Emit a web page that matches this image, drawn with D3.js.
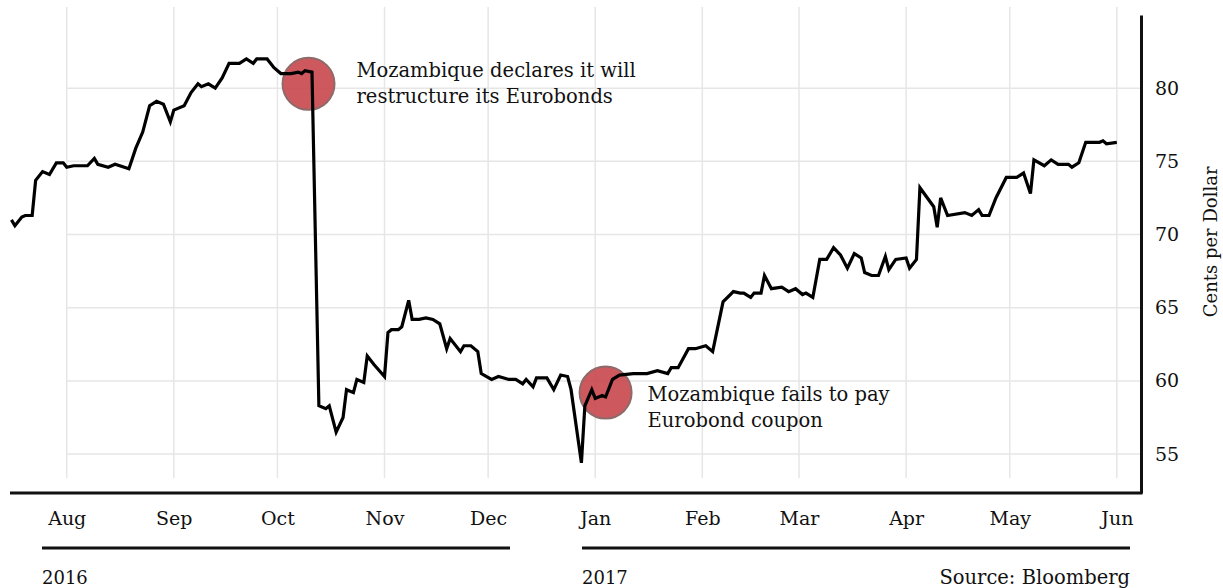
<!DOCTYPE html>
<html>
<head>
<meta charset="utf-8">
<script src="https://cdn.jsdelivr.net/npm/d3@7/dist/d3.min.js"></script>
<style>
  body { margin: 0; background: #fff; }
  svg text { font-family: "DejaVu Serif", "Liberation Serif", serif; fill: #111; }
</style>
</head>
<body>
<div id="chart"></div>
<script>
// Mozambique Eurobond price, cents per dollar
const dates = [
  '2016-07-16','2016-07-17','2016-07-19','2016-07-20','2016-07-22','2016-07-23','2016-07-25','2016-07-27',
  '2016-07-29','2016-07-31','2016-08-01','2016-08-03','2016-08-07','2016-08-09','2016-08-10','2016-08-13',
  '2016-08-15','2016-08-19','2016-08-21','2016-08-23','2016-08-25','2016-08-27','2016-08-29','2016-08-31',
  '2016-09-01','2016-09-04','2016-09-06','2016-09-08','2016-09-09','2016-09-11','2016-09-13','2016-09-15',
  '2016-09-17','2016-09-20','2016-09-22','2016-09-24','2016-09-25','2016-09-28','2016-09-30','2016-10-02',
  '2016-10-05','2016-10-07','2016-10-08','2016-10-09','2016-10-11','2016-10-13','2016-10-15','2016-10-16',
  '2016-10-18','2016-10-20','2016-10-21','2016-10-23','2016-10-24','2016-10-26','2016-10-27','2016-10-29',
  '2016-11-01','2016-11-02','2016-11-03','2016-11-05','2016-11-06','2016-11-08','2016-11-09','2016-11-11',
  '2016-11-13','2016-11-15','2016-11-17','2016-11-19','2016-11-20','2016-11-23','2016-11-24','2016-11-26',
  '2016-11-28','2016-11-29','2016-12-02','2016-12-04','2016-12-07','2016-12-09','2016-12-11','2016-12-12',
  '2016-12-14','2016-12-15','2016-12-18','2016-12-20','2016-12-22','2016-12-24','2016-12-25','2016-12-28',
  '2016-12-29','2016-12-31','2017-01-01','2017-01-03','2017-01-04','2017-01-06','2017-01-08','2017-01-12',
  '2017-01-16','2017-01-19','2017-01-22','2017-01-23','2017-01-25','2017-01-28','2017-01-30','2017-02-02',
  '2017-02-04','2017-02-07','2017-02-10','2017-02-12','2017-02-13','2017-02-15','2017-02-16','2017-02-18',
  '2017-02-19','2017-02-21','2017-02-24','2017-02-26','2017-02-28','2017-03-02','2017-03-03','2017-03-05',
  '2017-03-07','2017-03-09','2017-03-11','2017-03-13','2017-03-15','2017-03-17','2017-03-19','2017-03-20',
  '2017-03-22','2017-03-24','2017-03-26','2017-03-27','2017-03-29','2017-04-01','2017-04-02','2017-04-04',
  '2017-04-05','2017-04-09','2017-04-10','2017-04-11','2017-04-13','2017-04-18','2017-04-20','2017-04-22',
  '2017-04-23','2017-04-25','2017-04-27','2017-04-30','2017-05-03','2017-05-05','2017-05-07','2017-05-08',
  '2017-05-11','2017-05-13','2017-05-15','2017-05-18','2017-05-19','2017-05-21','2017-05-23','2017-05-27',
  '2017-05-28','2017-05-29','2017-06-01'
];
const prices = [
  71.0, 70.6, 71.2, 71.3, 71.3, 73.7, 74.3, 74.1,
  74.9, 74.9, 74.6, 74.7, 74.7, 75.2, 74.8, 74.6,
  74.8, 74.5, 75.9, 77.0, 78.8, 79.1, 78.9, 77.7,
  78.5, 78.8, 79.7, 80.3, 80.1, 80.3, 80.0, 80.7,
  81.7, 81.7, 82.0, 81.7, 82.0, 82.0, 81.4, 81.0,
  81.0, 81.1, 81.0, 81.2, 81.1, 58.3, 58.1, 58.3,
  56.5, 57.5, 59.4, 59.2, 60.1, 59.9, 61.7, 61.1,
  60.3, 63.3, 63.5, 63.5, 63.7, 65.5, 64.2, 64.2,
  64.3, 64.2, 63.9, 62.2, 62.9, 62.0, 62.4, 62.4,
  62.0, 60.5, 60.1, 60.3, 60.1, 60.1, 59.8, 60.1,
  59.6, 60.2, 60.2, 59.4, 60.4, 60.3, 59.4, 54.4,
  58.3, 59.4, 58.8, 59.0, 58.9, 60.1, 60.4, 60.5,
  60.5, 60.7, 60.5, 60.9, 60.9, 62.2, 62.2, 62.4,
  62.0, 65.4, 66.1, 66.0, 66.0, 65.7, 66.0, 66.0,
  67.2, 66.3, 66.4, 66.1, 66.3, 65.9, 66.0, 65.7,
  68.3, 68.3, 69.1, 68.6, 67.7, 68.7, 68.4, 67.4,
  67.2, 67.2, 68.5, 67.6, 68.3, 68.4, 67.7, 68.3,
  73.2, 71.9, 70.5, 72.5, 71.3, 71.5, 71.3, 71.7,
  71.3, 71.3, 72.5, 73.9, 73.9, 74.2, 72.8, 75.1,
  74.7, 75.1, 74.8, 74.8, 74.6, 74.9, 76.3, 76.3,
  76.4, 76.2, 76.3
];
const yTicks = [55, 60, 65, 70, 75, 80];
const years = ['2016', '2017'];
const noteDates = ['2016-10-10', '2017-01-04'];
const noteValues = [80.3, 59.2];
const noteTexts = [
  ['Mozambique declares it will', 'restructure its Eurobonds'],
  ['Mozambique fails to pay', 'Eurobond coupon']
];

const width = 1223, height = 588;
const margin = { top: 15, right: 82, bottom: 95, left: 8 };
const parse = d3.timeParse('%Y-%m-%d');
const data = dates.map((d, i) => ({ date: parse(d), value: prices[i] }));

const svg = d3.select('#chart').append('svg')
  .attr('width', width).attr('height', height);

const x = d3.scaleTime()
  .domain([new Date(2016, 6, 15), new Date(2017, 5, 8)])
  .range([margin.left, width - margin.right]);
const y = d3.scaleLinear()
  .domain([52.34, 85])
  .range([height - margin.bottom, margin.top]);

const months = d3.timeMonth.range(new Date(2016, 7, 1), new Date(2017, 5, 2));
const plotBottom = height - margin.bottom;
const plotRight = width - margin.right;

// vertical gridlines
svg.append('g').selectAll('line').data(months).join('line')
  .attr('x1', d => x(d)).attr('x2', d => x(d))
  .attr('y1', margin.top - 8).attr('y2', plotBottom - 15)
  .attr('stroke', '#e6e6e6').attr('stroke-width', 1.5);

// horizontal gridlines
svg.append('g').selectAll('line').data(yTicks).join('line')
  .attr('x1', x(months[0])).attr('x2', plotRight)
  .attr('y1', d => y(d)).attr('y2', d => y(d))
  .attr('stroke', '#e6e6e6').attr('stroke-width', 1.5);

// annotation circles
svg.append('g').selectAll('circle').data(noteDates).join('circle')
  .attr('cx', d => x(parse(d)))
  .attr('cy', (d, i) => y(noteValues[i]))
  .attr('r', 26)
  .attr('fill', '#c8474d').attr('fill-opacity', 0.9)
  .attr('stroke', '#8f6a6a').attr('stroke-width', 2);

// price line
const line = d3.line().x(d => x(d.date)).y(d => y(d.value));
svg.append('path').datum(data)
  .attr('d', line)
  .attr('fill', 'none').attr('stroke', '#000')
  .attr('stroke-width', 3.2).attr('stroke-linejoin', 'miter');

// annotation text, offset from its circle
const noteDx = [48, 42], noteDy = [-7, 8];
noteTexts.forEach((lines, i) => {
  const tx = x(parse(noteDates[i])) + noteDx[i];
  const t = svg.append('text')
    .attr('x', tx)
    .attr('y', y(noteValues[i]) + noteDy[i])
    .style('font-size', '19.5px');
  lines.forEach((s, j) => t.append('tspan')
    .attr('x', tx)
    .attr('dy', j ? 26 : 0).text(s));
});

// x axis
const xAxis = svg.append('g')
  .attr('transform', `translate(0,${plotBottom})`)
  .call(d3.axisBottom(x).tickValues(months).tickFormat(d3.timeFormat('%b')).tickSize(0).tickPadding(19));
xAxis.select('.domain').remove();
xAxis.selectAll('text').style('font-size', '19px').style('font-family', '"DejaVu Serif", serif').attr('fill', '#111');
svg.append('line')
  .attr('x1', margin.left + 2).attr('x2', plotRight + 1.5)
  .attr('y1', plotBottom).attr('y2', plotBottom)
  .attr('stroke', '#111').attr('stroke-width', 3);

// y axis on the right
const yAxis = svg.append('g')
  .attr('transform', `translate(${plotRight},0)`)
  .call(d3.axisRight(y).tickValues(yTicks).tickSize(0).tickPadding(14));
yAxis.select('.domain').attr('stroke', '#111').attr('stroke-width', 3);
yAxis.selectAll('text').style('font-size', '19px').style('font-family', '"DejaVu Serif", serif').attr('fill', '#111');

svg.append('text')
  .attr('transform', `translate(${width - 6},${y(69.5)}) rotate(-90)`)
  .attr('text-anchor', 'middle')
  .style('font-size', '18px')
  .text('Cents per Dollar');

// year bands
const yearSpans = [[42, 510], [582, 1130]];
years.forEach((yr, i) => {
  svg.append('line')
    .attr('x1', yearSpans[i][0]).attr('x2', yearSpans[i][1])
    .attr('y1', 548).attr('y2', 548)
    .attr('stroke', '#111').attr('stroke-width', 3);
  svg.append('text')
    .attr('x', yearSpans[i][0]).attr('y', 584)
    .style('font-size', '18px')
    .text(yr);
});

svg.append('text')
  .attr('x', 1130).attr('y', 584)
  .attr('text-anchor', 'end')
  .style('font-size', '19.5px')
  .text('Source: Bloomberg');
</script>
</body>
</html>
